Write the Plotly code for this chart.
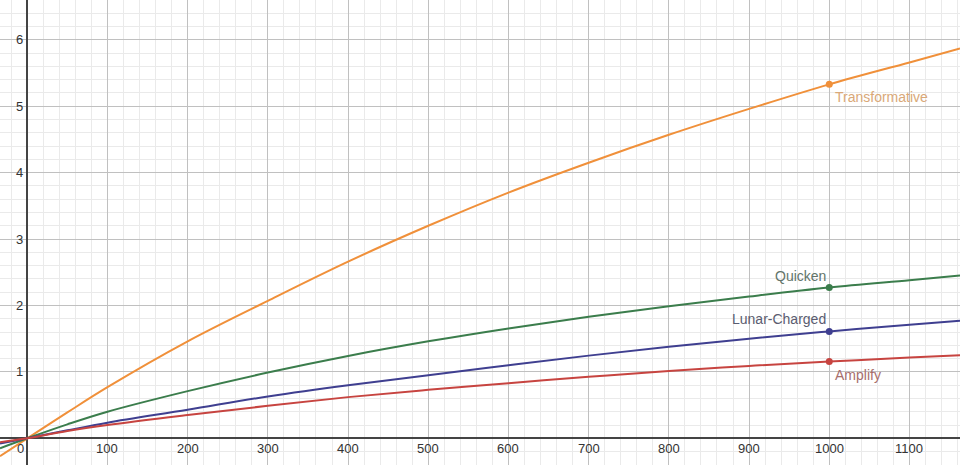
import plotly.graph_objects as go

x_vals = [-34, 0, 50, 100, 200, 300, 400, 500, 600, 700, 800, 900, 1000, 1100, 1163]

transformative = [-0.27, 0, 0.39, 0.77, 1.46, 2.07, 2.66, 3.20, 3.70, 4.15, 4.57, 4.96, 5.33, 5.66, 5.87]
quicken = [-0.15, 0, 0.21, 0.40, 0.71, 0.99, 1.24, 1.46, 1.655, 1.83, 1.99, 2.135, 2.27, 2.38, 2.45]
lunar_charged = [-0.08, 0, 0.12, 0.235, 0.43, 0.63, 0.80, 0.95, 1.10, 1.245, 1.38, 1.50, 1.61, 1.71, 1.77]
amplify = [-0.06, 0, 0.11, 0.20, 0.35, 0.49, 0.62, 0.73, 0.83, 0.925, 1.015, 1.09, 1.155, 1.215, 1.25]

point_x = 1000
point_vals = {"Transformative": 5.33, "Quicken": 2.27, "Lunar-Charged": 1.61, "Amplify": 1.155}

x_ticks = [100, 200, 300, 400, 500, 600, 700, 800, 900, 1000, 1100]
y_ticks = [1, 2, 3, 4, 5, 6]

series = [
    ("Transformative", transformative, "#f0903a", "#d9a878", "bottom right"),
    ("Quicken", quicken, "#3b7d4c", "#62746a", "top left"),
    ("Lunar-Charged", lunar_charged, "#3f3f90", "#5a5c70", "top left"),
    ("Amplify", amplify, "#c74440", "#a86e6c", "bottom right"),
]

fig = go.Figure()
for name, ys, col, lcol, pos in series:
    fig.add_trace(go.Scatter(x=x_vals, y=ys, mode="lines", line=dict(color=col, width=2, shape="spline"),
                             hoverinfo="skip", showlegend=False))
for name, ys, col, lcol, pos in series:
    fig.add_trace(go.Scatter(x=[point_x], y=[point_vals[name]], mode="markers",
                             marker=dict(color=col, size=7), showlegend=False))
    if pos == "bottom right":
        fig.add_annotation(x=point_x, y=point_vals[name], text=name, showarrow=False,
                           xanchor="left", yanchor="top", xshift=4, yshift=-3,
                           font=dict(family="Liberation Sans, Arial", size=14, color=lcol))
    else:
        fig.add_annotation(x=point_x, y=point_vals[name], text=name, showarrow=False,
                           xanchor="right", yanchor="bottom", xshift=-1, yshift=2,
                           font=dict(family="Liberation Sans, Arial", size=14, color=lcol))

tick_font = dict(family="Liberation Sans, Arial", size=13, color="#333333")
for t in x_ticks:
    fig.add_annotation(x=t, y=0, text=str(t), showarrow=False, yanchor="top", xanchor="center",
                       yshift=-1, font=tick_font)
for t in y_ticks:
    fig.add_annotation(x=0, y=t, text=str(t), showarrow=False, xanchor="right", yanchor="middle",
                       xshift=-2, font=tick_font)
fig.add_annotation(x=0, y=0, text="0", showarrow=False, xanchor="right", yanchor="top",
                   xshift=-1, yshift=-1, font=tick_font)

fig.update_layout(
    width=960, height=465, margin=dict(l=0, r=0, t=0, b=0),
    plot_bgcolor="white", paper_bgcolor="white",
    xaxis=dict(range=[-34, 1163], dtick=100, tick0=0, showticklabels=False, ticks="",
               showgrid=True, gridcolor="#c0c0c0", gridwidth=1,
               minor=dict(dtick=20, tick0=0, showgrid=True, gridcolor="#eaeaea", gridwidth=1),
               zeroline=True, zerolinecolor="#444444", zerolinewidth=1.6, showline=False),
    yaxis=dict(range=[-0.402, 6.60], dtick=1, tick0=0, showticklabels=False, ticks="",
               showgrid=True, gridcolor="#c0c0c0", gridwidth=1,
               minor=dict(dtick=0.2, tick0=0, showgrid=True, gridcolor="#eaeaea", gridwidth=1),
               zeroline=True, zerolinecolor="#444444", zerolinewidth=1.6, showline=False),
)

fig.write_html("out.html", config={"displayModeBar": False},
               post_script="document.body.style.margin='0';document.body.style.overflow='hidden';")
